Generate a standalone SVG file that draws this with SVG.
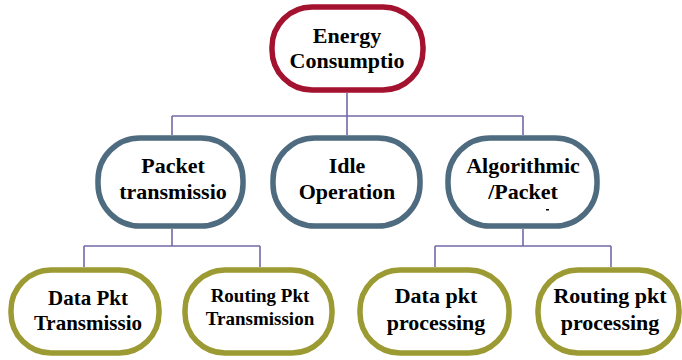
<svg xmlns="http://www.w3.org/2000/svg" width="682" height="360" viewBox="0 0 682 360">
<style>
.n{fill:#fff;stroke-width:5.5}
.r{stroke:#A3122F}
.b{stroke:#4E6B7F}
.o{stroke:#9C9A32}
.t{font-family:"Liberation Serif","Times New Roman",serif;font-weight:bold;fill:#000;text-anchor:middle}
.c{fill:none;stroke:#7468A8;stroke-width:1.6}
</style>
<rect width="682" height="360" fill="#fff"/>
<g id="connectors" class="c">
<path d="M347 93V116M172 116H523M172 116V135M347 116V135M523 116V135"/>
<path d="M172 229V246M84 246H260M84 246V267M260 246V267"/>
<path d="M523 229V246M435 246H611M435 246V267M611 246V267"/>
</g>
<g id="energy">
<rect class="n r" x="272" y="7" width="151" height="83" rx="40"/>
<text class="t" x="347" y="43" font-size="22">Energy</text>
<text class="t" x="347" y="68" font-size="22">Consumptio</text>
</g>
<g id="packet">
<rect class="n b" x="98" y="138" width="145" height="88" rx="42"/>
<text class="t" x="173" y="173" font-size="22">Packet</text>
<text class="t" x="173" y="199" font-size="22">transmissio</text>
</g>
<g id="idle">
<rect class="n b" x="273" y="138" width="147" height="88" rx="42"/>
<text class="t" x="347" y="173" font-size="22">Idle</text>
<text class="t" x="347" y="199" font-size="22">Operation</text>
</g>
<g id="algo">
<rect class="n b" x="448" y="138" width="149" height="88" rx="42"/>
<text class="t" x="523" y="173" font-size="22">Algorithmic</text>
<text class="t" x="523" y="199" font-size="22">/Packet</text>
<rect x="546" y="209" width="3" height="1.5" fill="#000"/>
</g>
<g id="datapkt">
<rect class="n o" x="11" y="270" width="148" height="83" rx="40"/>
<text class="t" x="88" y="305" font-size="21">Data Pkt</text>
<text class="t" x="88" y="330" font-size="21">Transmissio</text>
</g>
<g id="routingpkt">
<rect class="n o" x="185" y="270" width="147" height="83" rx="40"/>
<text class="t" x="260" y="302" font-size="19">Routing Pkt</text>
<text class="t" x="260" y="325" font-size="19">Transmission</text>
</g>
<g id="dataproc">
<rect class="n o" x="360" y="270" width="149" height="83" rx="40"/>
<text class="t" x="436" y="303" font-size="22">Data pkt</text>
<text class="t" x="436" y="330" font-size="22">processing</text>
</g>
<g id="routingproc">
<rect class="n o" x="538" y="270" width="141" height="83" rx="40"/>
<text class="t" x="610" y="303" font-size="22">Routing pkt</text>
<text class="t" x="610" y="330" font-size="22">processing</text>
</g>
</svg>
